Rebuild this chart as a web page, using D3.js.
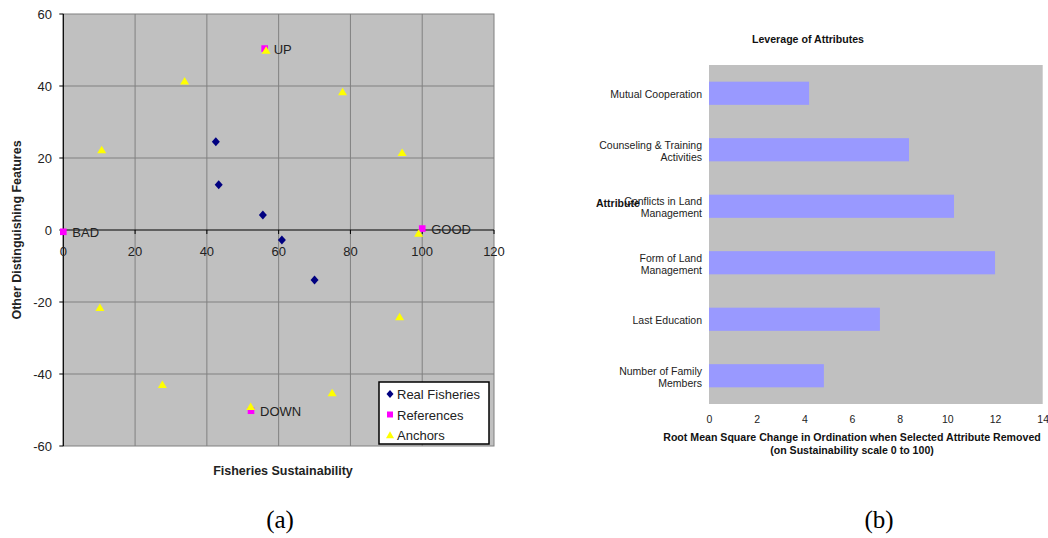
<!DOCTYPE html>
<html>
<head>
<meta charset="utf-8">
<script src="https://cdn.jsdelivr.net/npm/d3@7"></script>
<style>
  body { margin: 0; background: #fff; }
  svg { display: block; font-family: Arial, "Liberation Sans", sans-serif; }
</style>
</head>
<body>
<svg id="chart" width="1048" height="538"></svg>
<script>
// ---- (a) ordination scatter ----
const realX = [42.5, 43.3, 55.6, 60.9, 70.0];
const realY = [24.5, 12.6, 4.2, -2.8, -13.9];

const refNames = ["BAD", "UP", "GOOD", "DOWN"];
const refX = [0, 56.1, 100, 52.3];
const refY = [-0.5, 50.4, 0.4, -50.2];

const anchorX = [10.7, 33.8, 56.5, 77.8, 94.4, 99, 10.2, 27.6, 52.2, 74.9, 93.7];
const anchorY = [22.3, 41.4, 49.9, 38.4, 21.5, -0.9, -21.5, -42.9, -49, -45.2, -24.1];

const xTicksA = [0, 20, 40, 60, 80, 100, 120];
const yTicksA = [-60, -40, -20, 0, 20, 40, 60];
const legendNames = ["Real Fisheries", "References", "Anchors"];

// ---- (b) leverage bars ----
const attributes = [
  ["Mutual Cooperation"],
  ["Counseling & Training", "Activities"],
  ["Conflicts in Land", "Management"],
  ["Form of Land", "Management"],
  ["Last Education"],
  ["Number of Family", "Members"]
];
const leverage = [4.2, 8.39, 10.28, 12.0, 7.17, 4.82];
const xTicksB = [0, 2, 4, 6, 8, 10, 12, 14];

const svg = d3.select("#chart");

// square-ish diamond like the spreadsheet marker
const diamondPath = (w, h) => "M0," + (-h) + "L" + w + ",0L0," + h + "L" + (-w) + ",0Z";
const trianglePath = (w, h) => "M0," + (-h / 2 - 0.5) + "L" + (w / 2) + "," + (h / 2) + "L" + (-w / 2) + "," + (h / 2) + "Z";

/* ---------- chart (a) ---------- */
const a = svg.append("g");
const xA = d3.scaleLinear().domain([0, 120]).range([63.3, 494]);
const yA = d3.scaleLinear().domain([-60, 60]).range([446, 14]);

a.append("rect")
  .attr("x", xA(0)).attr("y", yA(60))
  .attr("width", xA(120) - xA(0)).attr("height", yA(-60) - yA(60))
  .attr("fill", "#c0c0c0").attr("stroke", "#808080");

// grid
a.selectAll(".vgrid").data(xTicksA.filter(d => d > 0 && d < 120)).enter()
  .append("line")
  .attr("x1", d => xA(d)).attr("x2", d => xA(d))
  .attr("y1", yA(60)).attr("y2", yA(-60))
  .attr("stroke", "#808080");
a.selectAll(".hgrid").data(yTicksA.filter(d => d > -60 && d < 60 && d !== 0)).enter()
  .append("line")
  .attr("y1", d => yA(d)).attr("y2", d => yA(d))
  .attr("x1", xA(0)).attr("x2", xA(120))
  .attr("stroke", "#808080");

// y axis
a.append("line").attr("x1", xA(0)).attr("x2", xA(0)).attr("y1", yA(60)).attr("y2", yA(-60))
  .attr("stroke", "#000").attr("stroke-width", 1.2);
a.selectAll(".ytick").data(yTicksA).enter().append("line")
  .attr("x1", xA(0) - 4).attr("x2", xA(0))
  .attr("y1", d => yA(d)).attr("y2", d => yA(d))
  .attr("stroke", "#000");
a.selectAll(".ylab").data(yTicksA).enter().append("text")
  .attr("x", 52).attr("y", d => yA(d) + 5)
  .attr("text-anchor", "end").attr("font-size", 13).attr("fill", "#222")
  .text(d => d);

// x axis through zero
a.append("line").attr("x1", xA(0)).attr("x2", xA(120)).attr("y1", yA(0)).attr("y2", yA(0))
  .attr("stroke", "#000").attr("stroke-width", 1.2);
a.selectAll(".xtick").data(xTicksA).enter().append("line")
  .attr("x1", d => xA(d)).attr("x2", d => xA(d))
  .attr("y1", yA(0)).attr("y2", yA(0) + 4)
  .attr("stroke", "#000");
a.selectAll(".xlab").data(xTicksA).enter().append("text")
  .attr("x", d => xA(d)).attr("y", yA(0) + 26)
  .attr("text-anchor", "middle").attr("font-size", 13).attr("fill", "#222")
  .text(d => d);

// axis titles
a.append("text")
  .attr("transform", "translate(21," + yA(0) + ") rotate(-90)")
  .attr("text-anchor", "middle").attr("font-size", 12.5).attr("font-weight", "bold").attr("fill", "#222")
  .text("Other Distinguishing Features");
a.append("text")
  .attr("x", 283).attr("y", 475)
  .attr("text-anchor", "middle").attr("font-size", 12.5).attr("font-weight", "bold").attr("fill", "#222")
  .text("Fisheries Sustainability");

// markers
a.selectAll(".real").data(realX).enter().append("path")
  .attr("d", diamondPath(4, 4.5))
  .attr("transform", (d, i) => "translate(" + xA(d) + "," + yA(realY[i]) + ")")
  .attr("fill", "#000080");

a.selectAll(".ref").data(refX).enter().append("path")
  .attr("d", d3.symbol().type(d3.symbolSquare).size(44))
  .attr("transform", (d, i) => "translate(" + xA(d) + "," + yA(refY[i]) + ")")
  .attr("fill", "#ff00ff");

a.selectAll(".anchor").data(anchorX).enter().append("path")
  .attr("d", trianglePath(9, 7))
  .attr("transform", (d, i) => "translate(" + xA(d) + "," + yA(anchorY[i]) + ")")
  .attr("fill", "#ffff00");

a.selectAll(".reflab").data(refNames).enter().append("text")
  .attr("x", (d, i) => xA(refX[i]) + 9)
  .attr("y", (d, i) => yA(refY[i]) + 5)
  .attr("font-size", 13).attr("fill", "#222")
  .text(d => d);

// legend
const lg = a.append("g").attr("transform", "translate(379,382)");
lg.append("rect").attr("x", 0).attr("y", 0).attr("width", 110).attr("height", 62)
  .attr("fill", "#fff").attr("stroke", "#000").attr("stroke-width", 1.5);
const legendSyms = [diamondPath(3.5, 4), d3.symbol().type(d3.symbolSquare).size(36)(), trianglePath(8, 6.5)];
const legendCols = ["#000080", "#ff00ff", "#ffff00"];
legendNames.forEach((n, i) => {
  lg.append("path").attr("d", legendSyms[i])
    .attr("transform", "translate(11," + (12 + i * 20.5) + ")")
    .attr("fill", legendCols[i]);
  lg.append("text").attr("x", 18).attr("y", 17 + i * 20.5)
    .attr("font-size", 13).attr("fill", "#222").text(n);
});

svg.append("text").attr("x", 280).attr("y", 528)
  .attr("text-anchor", "middle").attr("font-family", "'Liberation Serif', 'Times New Roman', serif")
  .attr("font-size", 25).attr("fill", "#000").text("(a)");

/* ---------- chart (b) ---------- */
const b = svg.append("g");
const xB = d3.scaleLinear().domain([0, 14]).range([709, 1042.7]);
const yB = d3.scaleBand().domain(d3.range(attributes.length)).range([65, 404]).paddingInner(0.59).paddingOuter(0.295);

b.append("rect")
  .attr("x", xB(0)).attr("y", 65)
  .attr("width", xB(14) - xB(0)).attr("height", 404 - 65)
  .attr("fill", "#c0c0c0");

b.selectAll(".bar").data(leverage).enter().append("rect")
  .attr("x", xB(0)).attr("y", (d, i) => yB(i))
  .attr("width", d => xB(d) - xB(0)).attr("height", yB.bandwidth())
  .attr("fill", "#9999ff");

const xAxisB = b.append("g").attr("transform", "translate(0,404)")
  .call(d3.axisBottom(xB).tickValues(xTicksB).tickSize(0).tickPadding(12));
xAxisB.select(".domain").remove();
xAxisB.selectAll("text").attr("font-size", 10.5).attr("fill", "#222").attr("font-family", "Arial, 'Liberation Sans', sans-serif");

attributes.forEach((lines, i) => {
  const cy = yB(i) + yB.bandwidth() / 2;
  const t = b.append("text").attr("text-anchor", "end").attr("font-size", 10.5).attr("fill", "#222");
  lines.forEach((ln, j) => {
    t.append("tspan").attr("x", 702)
      .attr("y", cy + 5 + (j - (lines.length - 1) / 2) * 12)
      .text(ln);
  });
});

b.append("text").attr("x", 596).attr("y", 207)
  .attr("font-size", 10.5).attr("font-weight", "bold").attr("fill", "#111").text("Attribute");

b.append("text").attr("x", 808).attr("y", 43)
  .attr("text-anchor", "middle").attr("font-size", 10.6).attr("font-weight", "bold").attr("fill", "#111")
  .text("Leverage of Attributes");

b.append("text").attr("x", 852).attr("y", 440.5)
  .attr("text-anchor", "middle").attr("font-size", 10.6).attr("font-weight", "bold").attr("fill", "#111")
  .text("Root Mean Square Change in Ordination when Selected Attribute Removed");
b.append("text").attr("x", 852).attr("y", 454)
  .attr("text-anchor", "middle").attr("font-size", 10.6).attr("font-weight", "bold").attr("fill", "#111")
  .text("(on Sustainability scale 0 to 100)");

svg.append("text").attr("x", 879).attr("y", 528)
  .attr("text-anchor", "middle").attr("font-family", "'Liberation Serif', 'Times New Roman', serif")
  .attr("font-size", 25).attr("fill", "#000").text("(b)");
</script>
</body>
</html>
